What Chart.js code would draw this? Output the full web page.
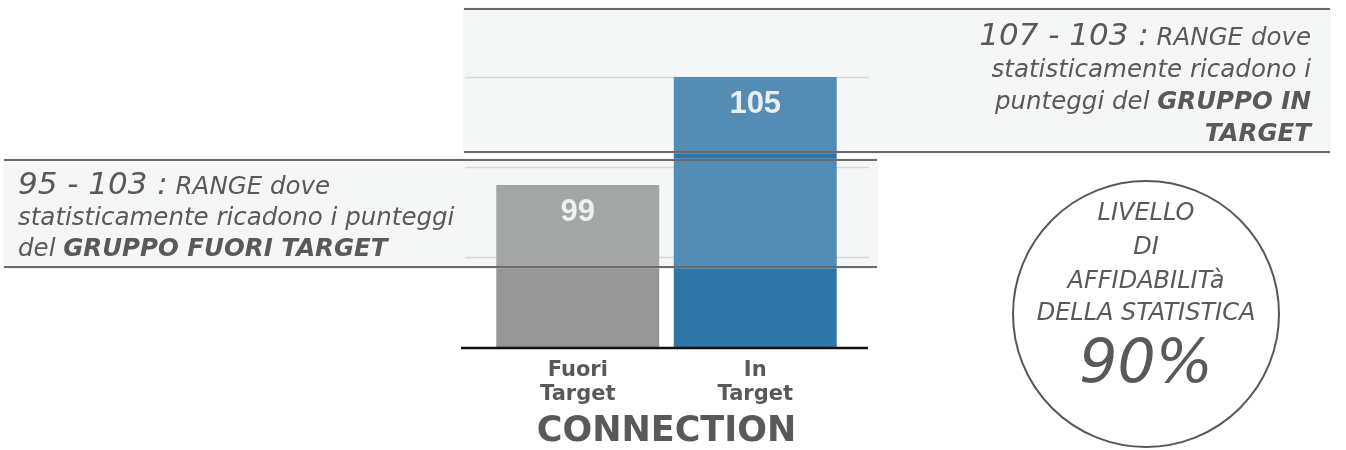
<!DOCTYPE html>
<html>
<head>
<meta charset="utf-8">
<script src="https://cdn.jsdelivr.net/npm/chart.js@4.4.0/dist/chart.umd.min.js"></script>
<style>
  html, body { margin: 0; padding: 0; background: #fff; }
  #wrap { position: relative; width: 1346px; height: 450px; overflow: hidden; }
  #chart { position: absolute; left: 0; top: 0; }
  .range {
    position: absolute;
    background: rgba(212, 214, 216, 0.23);
    border-top: 2px solid #6a6a6a;
    border-bottom: 2px solid #6a6a6a;
    box-shadow: 0 0 0 1px rgba(205, 225, 235, 0.25);
    font-family: "DejaVu Sans", sans-serif;
    font-style: italic;
    color: #595959;
    font-size: 24.5px;
    line-height: 32px;
    box-sizing: border-box;
  }
  .range .big { font-size: 31px; }
  .range b { font-weight: 700; }
  #rangeIn { left: 464px; top: 8px; width: 866px; height: 145px; text-align: right; padding: 8px 19px 0 0; }
  #rangeOut { left: 4px; top: 159px; width: 873px; height: 109px; text-align: left; padding: 7px 0 0 14px; line-height: 31px; }
  #circle {
    position: absolute; left: 1012px; top: 180px; width: 264px; height: 264px;
    border: 2px solid #585858; border-radius: 50%;
    font-family: "DejaVu Sans", sans-serif; font-style: italic; color: #595959;
  }
  #circle div { position: absolute; left: -10px; right: -10px; text-align: center; font-size: 24px; line-height: 30px; }
  #circle .pct { font-size: 60px; line-height: 70px; }
</style>
</head>
<body>
<div id="wrap">
  <canvas id="chart" width="1346" height="450"></canvas>
  <div class="range" id="rangeIn"><span class="big">107 - 103 :</span> RANGE dove<br>statisticamente ricadono i<br>punteggi del <b>GRUPPO IN</b><br><b>TARGET</b></div>
  <div class="range" id="rangeOut"><span class="big">95 - 103 :</span> RANGE dove<br>statisticamente ricadono i punteggi<br>del <b>GRUPPO FUORI TARGET</b></div>
  <div id="circle">
    <div style="top:15px">LIVELLO</div>
    <div style="top:49px">DI</div>
    <div style="top:83px">AFFIDABILITà</div>
    <div style="top:115px">DELLA STATISTICA</div>
    <div class="pct" style="top:144px">90%</div>
  </div>
</div>
<script>
const categories = [['Fuori', 'Target'], ['In', 'Target']];
const scores = [99, 105];
const barColors = ['#969696', '#2e75a8'];
const yMin = 90;
const yMax = 105;
const yStep = 5;

// grid lines and baseline a bit wider than the bars area
const wideGrid = {
  id: 'wideGrid',
  beforeDatasetsDraw(chart) {
    const { ctx, chartArea, scales } = chart;
    const x0 = chartArea.left - 26, x1 = chartArea.right + 25;
    ctx.save();
    ctx.strokeStyle = '#d9d9d9';
    ctx.lineWidth = 1.5;
    for (let v = yMin + yStep; v <= yMax; v += yStep) {
      const y = Math.round(scales.y.getPixelForValue(v)) + 0.5;
      ctx.beginPath();
      ctx.moveTo(x0 + 2, y);
      ctx.lineTo(x1, y);
      ctx.stroke();
    }
    ctx.restore();
  },
  afterDatasetsDraw(chart) {
    const { ctx, chartArea } = chart;
    ctx.save();
    ctx.strokeStyle = '#111';
    ctx.lineWidth = 2.5;
    ctx.beginPath();
    ctx.moveTo(chartArea.left - 28, chartArea.bottom + 1);
    ctx.lineTo(chartArea.right + 24, chartArea.bottom + 1);
    ctx.stroke();
    ctx.restore();
  }
};

// value labels inside the top of each bar
const barValues = {
  id: 'barValues',
  afterDatasetsDraw(chart) {
    const { ctx } = chart;
    const meta = chart.getDatasetMeta(0);
    ctx.save();
    ctx.font = 'bold 31px "Liberation Sans", Arial, sans-serif';
    ctx.fillStyle = 'rgba(255,255,255,0.93)';
    ctx.textAlign = 'center';
    ctx.textBaseline = 'middle';
    meta.data.forEach((bar, i) => {
      ctx.fillText(String(scores[i]), bar.x, bar.y + 27);
    });
    ctx.restore();
  }
};

new Chart(document.getElementById('chart'), {
  type: 'bar',
  data: {
    labels: categories,
    datasets: [{
      data: scores,
      backgroundColor: barColors,
      borderWidth: 0,
      categoryPercentage: 1,
      barPercentage: 0.918
    }]
  },
  options: {
    responsive: false,
    animation: false,
    events: [],
    layout: { padding: { left: 489, right: 502, top: 77, bottom: 0 } },
    plugins: { legend: { display: false }, tooltip: { enabled: false } },
    scales: {
      y: {
        display: false,
        min: yMin,
        max: yMax
      },
      x: {
        afterFit(scale) { scale.height = 103; },
        grid: { display: false },
        border: { display: false },
        ticks: {
          padding: 3,
          color: '#595959',
          font: { family: '"DejaVu Sans"', weight: 'bold', size: 21, lineHeight: 1.15 }
        },
        title: {
          display: true,
          text: 'CONNECTION',
          color: '#595959',
          padding: { top: 4, bottom: 0 },
          font: { family: '"DejaVu Sans"', weight: 'bold', size: 35, lineHeight: 1.05 }
        }
      }
    }
  },
  plugins: [wideGrid, barValues]
});
</script>
</body>
</html>
